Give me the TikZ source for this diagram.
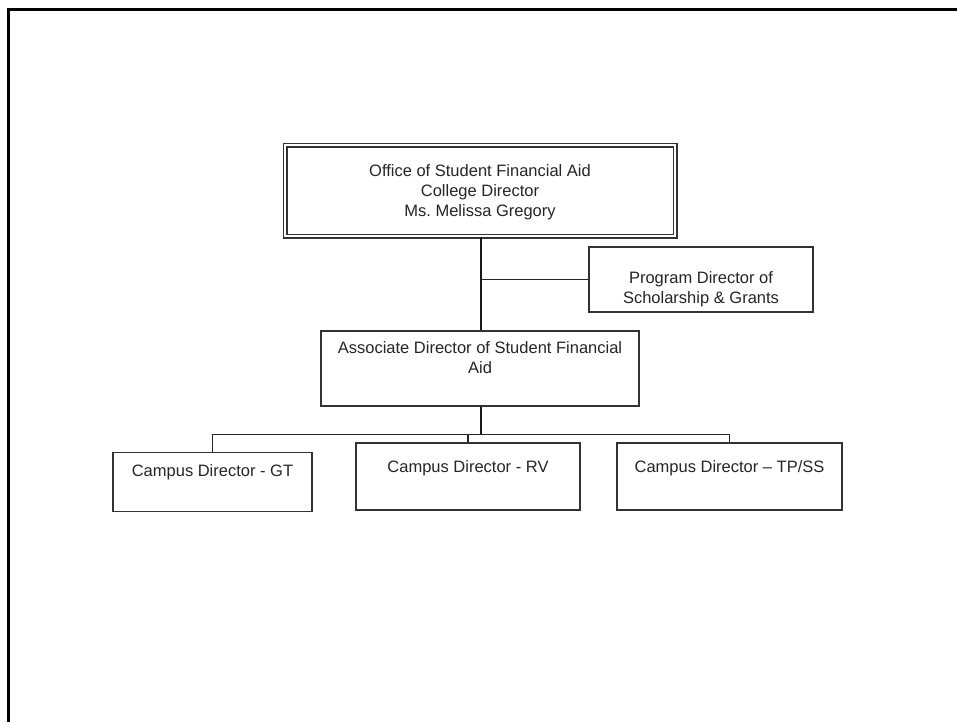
\documentclass[tikz,border=0pt]{standalone}
\usepackage{fontspec}
\setmainfont{Liberation Sans}
\frenchspacing
\begin{document}
\begin{tikzpicture}[x=1pt,y=-1pt,
  box/.style={draw=black!80, line width=1.3pt, fill=white, inner sep=0pt},
  headbox/.style={box, double=white, double distance=2.4pt},
  caption/.style={anchor=north, inner sep=0pt, align=center, text=black!85,
    font=\fontsize{16.5}{20}\selectfont},
  link/.style={draw=black!85, line width=1.2pt},
  trunkline/.style={draw=black!90, line width=2pt}]
\useasboundingbox (0,0) rectangle (957,721);

% page frame (top and left edges only)
\draw[line width=3pt, line cap=rect] (8.5,721) -- (8.5,9.5) -- (957,9.5);

% boxes
\node[headbox, minimum width=390pt, minimum height=91pt] (head) at (480,190.7) {};
\node[box, minimum width=224pt, minimum height=65pt] (prog) at (701,279.5) {};
\node[box, minimum width=318pt, minimum height=75pt] (assoc) at (480,368.5) {};
\node[box, minimum width=199pt, minimum height=59pt] (gt) at (212.5,482) {};
\node[box, minimum width=224pt, minimum height=67pt] (rv) at (468,476.5) {};
\node[box, minimum width=225pt, minimum height=67pt] (tp) at (729.5,476.5) {};

% captions
\node[caption] (headtext) at (480,164) {Office of Student Financial Aid\\College Director\\Ms.\ Melissa Gregory};
\node[caption] (progtext) at (701,271) {Program Director of\\Scholarship \& Grants};
\node[caption] (assoctext) at (480,341) {Associate Director of Student Financial\\Aid};
\node[caption] (gttext) at (212.5,464) {Campus Director - GT};
\node[caption] (rvtext) at (468,460) {Campus Director - RV};
\node[caption] (tptext) at (729.5,460) {Campus Director -- TP/SS};

% connectors
\coordinate (trunk) at (481,0);
\coordinate (bus) at (480.5,434.3);
\draw[trunkline] (head.south -| trunk) -- (assoc.north -| trunk);
\draw[link] (trunk |- prog.west) -- (prog.west);
\draw[trunkline] (assoc.south -| bus) -- (bus);
\draw[link] (gt.north) |- (bus) -| (tp.north);
\draw[link] (rv.north) -- (rv.north |- bus);
\end{tikzpicture}
\end{document}
